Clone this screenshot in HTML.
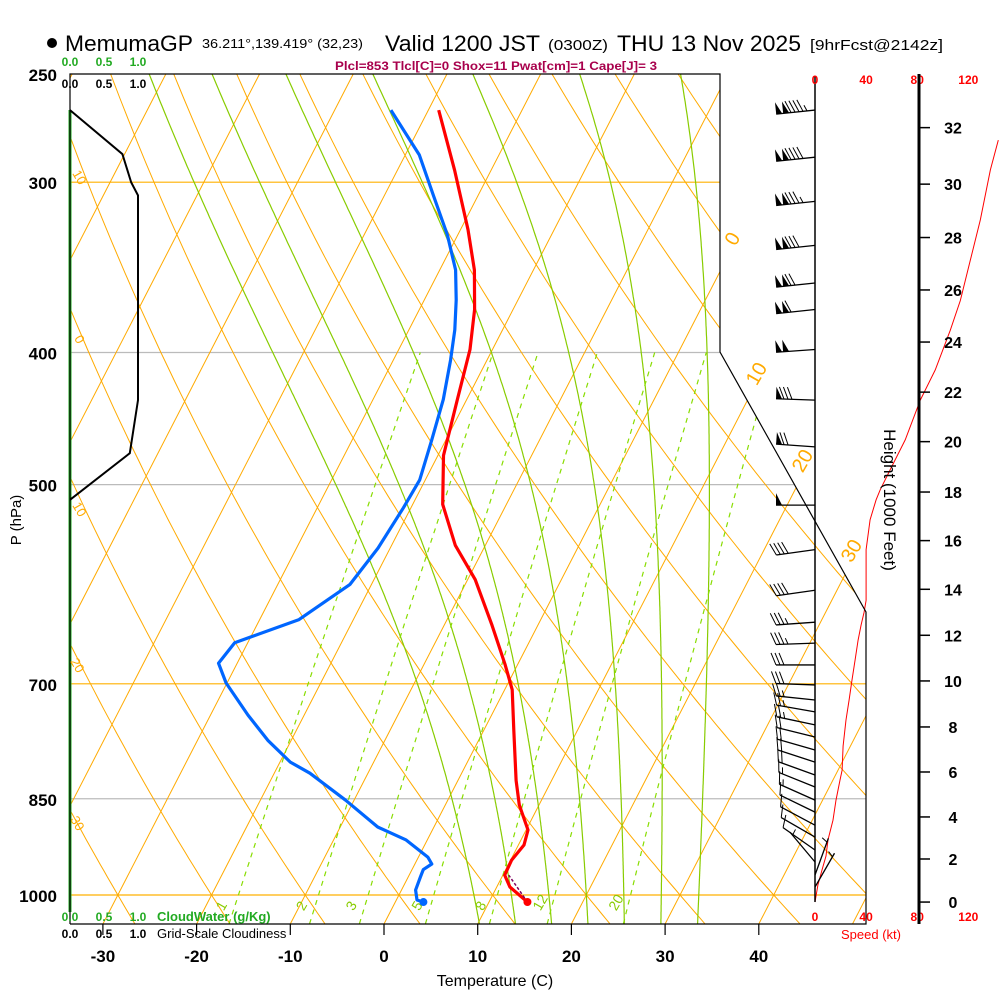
<!DOCTYPE html>
<html><head><meta charset="utf-8"><style>
html,body{margin:0;padding:0;background:#fff;}
svg{display:block;font-family:"Liberation Sans",sans-serif;}
</style></head><body>
<svg id="chart" width="1000" height="1000" viewBox="0 0 1000 1000" xmlns="http://www.w3.org/2000/svg">
<defs><clipPath id="plotclip"><polygon points="70,74 720,74 720,352 866,612 866,924 70,924"/></clipPath></defs>
<g id="title">
  <circle cx="52" cy="43" r="5" fill="#000"/>
  <text x="65" y="51" font-size="22" textLength="128" lengthAdjust="spacingAndGlyphs">MemumaGP</text>
  <text x="202" y="48" font-size="13" textLength="161" lengthAdjust="spacingAndGlyphs">36.211°,139.419° (32,23)</text>
  <text x="385" y="51" font-size="22" textLength="155" lengthAdjust="spacingAndGlyphs">Valid 1200 JST</text>
  <text x="548" y="50" font-size="15" textLength="60" lengthAdjust="spacingAndGlyphs">(0300Z)</text>
  <text x="617" y="51" font-size="22" textLength="184" lengthAdjust="spacingAndGlyphs">THU 13 Nov 2025</text>
  <text x="810" y="50" font-size="15" textLength="133" lengthAdjust="spacingAndGlyphs">[9hrFcst@2142z]</text>
</g>
<text x="335" y="70" font-size="12" font-weight="bold" fill="#a8004c" textLength="322" lengthAdjust="spacingAndGlyphs">Plcl=853 Tlcl[C]=0 Shox=11 Pwat[cm]=1 Cape[J]= 3</text>
<g id="grid" clip-path="url(#plotclip)"></g>
<g id="marks"></g>
<g id="axes"></g>
</svg>
<script>
// ---------- data ----------
const tempPressures = [265.6,294,325,348,372,398,433,476,517,554,587,634,678,707,757,824,859,896,919,943,967,986.6,1011.9];
const tempValues = [-38.9,-33.9,-29.2,-26.3,-24.1,-22.4,-21.0,-19.4,-16.8,-13.2,-9.2,-4.9,-1.3,0.8,3.2,6.2,7.9,10.2,10.6,10.1,10.2,11.4,14.1];
const dewPressures = [265.6,286.5,306.6,328,348,366,385,405,433,464,496,520,556.5,592,628,653,676,699,738,770,799,814,852,891.5,911,938,949,958,970,991.6,1008.5,1012];
const dewValues = [-44.0,-38.5,-34.8,-31.1,-28.3,-26.6,-25.1,-23.9,-22.5,-21.5,-20.6,-20.8,-21.3,-22.3,-25.8,-31.4,-32.0,-30.1,-26.0,-22.5,-18.9,-16.2,-10.9,-6.0,-2.3,1.0,1.8,1.2,1.3,1.5,2.2,3.0];
const speedPressures = [1012,983.3,958.6,936.2,911.2,881.1,851.9,823.6,809.9,777.6,744,719.4,695.5,672.3,650.2,633.8,620.2,607.9,558.1,530.5,513,504.4,487.7,463.6,433.5,412,385.2,366.4,342.3,319.8,293.8,279.4];
const speedValues = [0,2.3,5.5,8.6,10.2,14.1,16.4,19.6,21.2,22,24.3,26.7,29,31.4,33.7,36.1,38.4,40,40,43.1,47.8,51,58.8,70.6,82.4,94.1,105.9,113.7,121.6,129.4,137.3,143.5];
const barbPressures = [265.6,287.6,309.9,333.8,355.7,372,398,433.5,469.1,517.6,558,597.7,630.8,653.5,678,701.3,719.4,734,750.3,765.8,782.8,798.9,816.6,833.3,851.9,869.4,888.7,906.7,926.8,945.8,966.8,986.6];
const barbSpeeds = [145,140,135,128,120,112,100,82,68,50,42,40,37,34,31,28,27,25,24,22,21,20,18,16,15,12,10,9,8,6,5,3];
const barbDirs = [264,264,264,264,264,264,266,272,274,270,262,262,266,268,270,272,276,280,282,284,286,288,290,292,294,296,298,300,305,320,20,30];
const cloudPressures = [265.6,286.1,300.1,306.8,433.5,474.2,513];
const cloudFraction = [0,0.77,0.9,1,1,0.88,0];
const pressureTicks = [250,300,400,500,700,850,1000];
const tempTicks = [-30,-20,-10,0,10,20,30,40];
const heightTicks = [0,2,4,6,8,10,12,14,16,18,20,22,24,26,28,30,32];
const heightPressures = [1012,941,876.5,812.4,752.9,696.6,644.9,596.7,549.6,506.3,465,427.7,393,359.9,329.4,301,273.6];
const speedTicks = [0,40,80,120];
const mixingRatios = [1,2,3,5,8,12,20];
const moistStartTemps = [8,12,16,20,24,28,32];

// ---------- scales ----------
const NS='http://www.w3.org/2000/svg';
function yOfP(p){return 895-592.06*Math.log(1000/p);}
function xOf(T,p){return 384+9.37*T+0.515*(924-yOfP(p));}
function xSpeed(s){return 815+1.2775*s;}
function xCloud(c){return 70+68*c;}
function mk(tag,attrs,parent){const e=document.createElementNS(NS,tag);for(const k in attrs)e.setAttribute(k,attrs[k]);parent.appendChild(e);return e;}
const grid=document.getElementById('grid'), marks=document.getElementById('marks'), axes=document.getElementById('axes');
function pathFrom(pts){return pts.map((q,i)=>(i?'L':'M')+q[0].toFixed(1)+','+q[1].toFixed(1)).join('');}

// isobars
pressureTicks.forEach(p=>{
  if(p===250)return;
  const col=(p===300||p===700||p===1000)?'#ffb000':'#bbbbbb';
  const l=mk('line',{x1:70,x2:866,y1:yOfP(p),y2:yOfP(p),stroke:col,'stroke-width':1.2},grid);
  
  
});
// isotherms
for(let T=-150;T<=50;T+=10){
  const l=mk('line',{x1:xOf(T,1050),y1:yOfP(1050),x2:xOf(T,250),y2:yOfP(250),stroke:'#ffaa00','stroke-width':1},grid);
  
  
}
// dry adiabats
for(let th=-60;th<=220;th+=10){
  const pts=[];
  for(let p=1050;p>=250;p-=10){pts.push([xOf((th+273.15)*Math.pow(p/1000,0.2857)-273.15,p),yOfP(p)]);}
  const e=mk('path',{d:pathFrom(pts),fill:'none',stroke:'#ffaa00','stroke-width':1},grid);
  
  
}
// moist adiabats
function es(T){return 6.112*Math.exp(17.67*T/(T+243.5));}
function rsat(T,p){const e=es(T);return 0.622*e/(p-e);}
function dTdp(T,p){const Tk=T+273.15,r=rsat(T,p);return (287*Tk+2.5e6*r)/(1004+2.5e6*2.5e6*r*0.622/(287*Tk*Tk))/p;}
function integ(T0,p0,p1,dp){const out=[];let T=T0,p=p0;out.push([T,p]);while((dp<0&&p>p1)||(dp>0&&p<p1)){const k1=dTdp(T,p);const k2=dTdp(T+k1*dp/2,p+dp/2);T+=k2*dp;p+=dp;out.push([T,p]);}return out;}
moistStartTemps.forEach(T0=>{
  const up=integ(T0,1000,250,-2), dn=integ(T0,1000,1050,2);
  const pts=dn.reverse().concat(up.slice(1)).map(q=>[xOf(q[0],q[1]),yOfP(q[1])]);
  const e=mk('path',{d:pathFrom(pts),fill:'none',stroke:'#88cc00','stroke-width':1.2},grid);
  
  
});
// mixing ratio lines
function tdFromW(w,p){const e=w*p/(622+w);const l=Math.log(e/6.112);return 243.5*l/(17.67-l);}
mixingRatios.forEach(w=>{
  const pts=[];
  for(let p=1050;p>=400;p-=10)pts.push([xOf(tdFromW(w,p),p),yOfP(p)]);
  const e=mk('path',{d:pathFrom(pts),fill:'none',stroke:'#88dd00','stroke-width':1.2,'stroke-dasharray':'5,5'},grid);
  
  
  const t=mk('text',{x:xOf(tdFromW(w,1012),1012)-18,y:yOfP(1012)+8,'font-size':14,fill:'#88cc00',transform:'rotate(-60 '+(xOf(tdFromW(w,1012),1012)-14)+' '+(yOfP(1012)+4)+')'},grid);
  t.textContent=w;
  
  
});

// plot border
const border=mk('polyline',{points:'70,924 70,74 720,74 720,352 866,612 866,924 70,924',fill:'none',stroke:'#000','stroke-width':1.2},axes);



// grid labels
[['0',733,245,20],['10',757,380,20],['20',803,467,20],['30',852,557,20]].forEach(a=>{
  const t=mk('text',{x:a[1],y:a[2],'font-size':a[3],fill:'#ffaa00','text-anchor':'middle',transform:'rotate(-60 '+a[1]+' '+(a[2]-6)+')'},axes);
  t.textContent=a[0];
  
  
});
[['10',80,182],['0',80,344],['10',80,514],['20',78,670],['30',78,828]].forEach(a=>{
  const t=mk('text',{x:a[1],y:a[2],'font-size':13,fill:'#ffaa00','text-anchor':'middle',transform:'rotate(60 '+a[1]+' '+(a[2]-5)+')'},axes);
  t.textContent=a[0];
  
  
});

// cloud water axis (green) and cloudiness
const cw=mk('line',{x1:70,y1:110,x2:70,y2:912,stroke:'#22aa22','stroke-width':3},marks);


const cl=mk('path',{d:pathFrom(cloudPressures.map((p,i)=>[xCloud(cloudFraction[i]),yOfP(p)])),fill:'none',stroke:'#000','stroke-width':2},marks);



// temperature & dewpoint
const tl=mk('path',{d:pathFrom(tempPressures.map((p,i)=>[xOf(tempValues[i],p),yOfP(p)])),fill:'none',stroke:'#ff0000','stroke-width':3.2,'stroke-linejoin':'round'},marks);


const dl=mk('path',{d:pathFrom(dewPressures.map((p,i)=>[xOf(dewValues[i],p),yOfP(p)])),fill:'none',stroke:'#0066ff','stroke-width':3.2,'stroke-linejoin':'round'},marks);


const n1=tempPressures.length-1, n2=dewPressures.length-1;
const pl=mk('line',{x1:xOf(tempValues[n1],tempPressures[n1]),y1:yOfP(tempPressures[n1]),x2:xOf(tempValues[n1-2],tempPressures[n1-2])+4,y2:yOfP(tempPressures[n1-2]),stroke:'#800060','stroke-width':1.5,'stroke-dasharray':'3,2'},marks);


const td=mk('circle',{cx:xOf(tempValues[n1],tempPressures[n1]),cy:yOfP(tempPressures[n1]),r:4,fill:'#ff0000'},marks);


const dd=mk('circle',{cx:xOf(dewValues[n2],dewPressures[n2]),cy:yOfP(dewPressures[n2]),r:4,fill:'#0066ff'},marks);



// wind speed panel
const sz=mk('line',{x1:815,y1:76,x2:815,y2:902,stroke:'#000','stroke-width':1.5},axes);


const sp=mk('path',{d:pathFrom(speedPressures.map((p,i)=>[xSpeed(speedValues[i]),yOfP(p)])),fill:'none',stroke:'#ff0000','stroke-width':1},marks);


speedTicks.forEach(s=>{
  [84,921].forEach(yy=>{
    const t=mk('text',{x:xSpeed(s),y:yy,'font-size':12,'font-weight':'bold',fill:'#ff0000','text-anchor':'middle'},axes);
    t.textContent=s;
    
    
  });
});
const spt=mk('text',{x:871,y:939,'font-size':13,fill:'#ff0000','text-anchor':'middle'},axes);
spt.textContent='Speed (kt)';



// wind barbs
barbPressures.forEach((p,i)=>{
  const g=mk('g',{},marks);
  
  
  const y=yOfP(p), d=barbDirs[i]*Math.PI/180;
  const ux=Math.sin(d), uy=-Math.cos(d), L=39;
  const ex=815+L*ux, ey=y+L*uy;
  mk('line',{x1:815,y1:y,x2:ex,y2:ey,stroke:'#000','stroke-width':1.3},g);
  const nx=-uy, ny=ux; const s0=nx*0+ny; const sgn=(ny>0?-1:1);
  const px=nx*sgn, py=ny*sgn;
  let s=Math.round(barbSpeeds[i]/5)*5, pos=0;
  while(s>=50){
    const bx=ex-ux*pos, by=ey-uy*pos;
    mk('polygon',{points:`${bx},${by} ${bx-ux*6},${by-uy*6} ${bx+px*12},${by+py*12}`,fill:'#000'},g);
    pos+=7; s-=50;
  }
  if(pos>0)pos+=1;
  while(s>=10){
    const bx=ex-ux*pos, by=ey-uy*pos;
    mk('line',{x1:bx,y1:by,x2:bx+px*12+ux*5,y2:by+py*12+uy*5,stroke:'#000','stroke-width':1},g);
    pos+=4; s-=10;
  }
  if(s>=5){
    if(pos===0)pos=4;
    const bx=ex-ux*pos, by=ey-uy*pos;
    mk('line',{x1:bx,y1:by,x2:bx+px*6+ux*2.5,y2:by+py*6+uy*2.5,stroke:'#000','stroke-width':1},g);
  }
});

// pressure labels
pressureTicks.forEach(p=>{
  const t=mk('text',{x:57,y:yOfP(p)+7,'font-size':17,'font-weight':'bold','text-anchor':'end'},axes);
  t.textContent=p;
  
  
});
const pt=mk('text',{x:21,y:520,'font-size':15,'text-anchor':'middle',transform:'rotate(-90 21 520)'},axes);
pt.textContent='P (hPa)';


// temperature ticks
tempTicks.forEach(T=>{
  const x=384+9.37*T;
  const l=mk('line',{x1:x,y1:924,x2:x,y2:935,stroke:'#000','stroke-width':1.2},axes);
  
  
  const t=mk('text',{x:x,y:962,'font-size':17,'font-weight':'bold','text-anchor':'middle'},axes);
  t.textContent=T;
  
  
});
const tt=mk('text',{x:495,y:986,'font-size':16,'text-anchor':'middle'},axes);
tt.textContent='Temperature (C)';


// height axis
const ha=mk('line',{x1:919,y1:74,x2:919,y2:924,stroke:'#000','stroke-width':3},axes);


heightTicks.forEach((h,i)=>{
  const y=yOfP(heightPressures[i]);
  const l=mk('line',{x1:919,y1:y,x2:930,y2:y,stroke:'#000','stroke-width':1.5},axes);
  
  
  const t=mk('text',{x:953,y:y+6,'font-size':16,'font-weight':'bold','text-anchor':'middle'},axes);
  t.textContent=h;
  
  
});
const ht=mk('text',{x:884,y:500,'font-size':17,'text-anchor':'middle',transform:'rotate(90 884 500)'},axes);
ht.textContent='Height (1000 Feet)';


// cloud scale labels
[[0,'0.0'],[0.5,'0.5'],[1,'1.0']].forEach(a=>{
  [[66,'#22aa22','cloud-water-scale-label'],[88,'#000','cloudiness-scale-label'],[921,'#22aa22','cloud-water-scale-label'],[938,'#000','cloudiness-scale-label']].forEach(b=>{
    const t=mk('text',{x:xCloud(a[0]),y:b[0],'font-size':12,'font-weight':'bold',fill:b[1],'text-anchor':'middle'},axes);
    t.textContent=a[1];
    
    
  });
});
const cwl=mk('text',{x:157,y:921,'font-size':13,'font-weight':'bold',fill:'#22aa22'},axes);
cwl.textContent='CloudWater (g/Kg)';


const gsl=mk('text',{x:157,y:938,'font-size':13,fill:'#000'},axes);
gsl.textContent='Grid-Scale Cloudiness';


</script>
</body></html>
